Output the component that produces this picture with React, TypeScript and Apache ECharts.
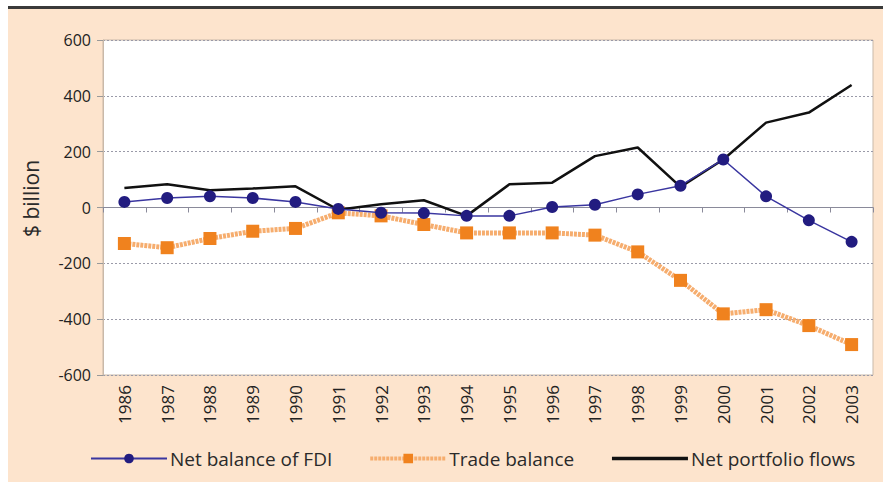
import React, { useEffect, useRef } from "react";
import * as echarts from "echarts";

const years = ["1986","1987","1988","1989","1990","1991","1992","1993","1994","1995","1996","1997","1998","1999","2000","2001","2002","2003"];
const fdi = [20, 34, 40, 34, 20, -5, -19, -20, -30, -30, 2, 10, 47, 78, 172, 40, -46, -123];
const trade = [-129, -144, -111, -85, -75, -19, -30, -61, -91, -91, -91, -99, -159, -261, -381, -366, -423, -491];
const portfolio = [70, 83, 62, 68, 76, -8, 12, 26, -30, 83, 89, 184, 215, 74, 172, 304, 340, 439];
const yTicks = { min: -600, max: 600, interval: 200 };

export default function App() {
  const ref = useRef<HTMLDivElement>(null);
  useEffect(() => {
    if (!ref.current) return;
    const chart = echarts.init(ref.current, null, { renderer: "svg" });
    const font = "'Open Sans', 'Liberation Sans', sans-serif";
    chart.setOption({
      animation: false,
      backgroundColor: "#ffffff",
      textStyle: { fontFamily: font },
      graphic: [
        { type: "rect", z: -10, silent: true, shape: { x: 8, y: 9, width: 875, height: 473 }, style: { fill: "#fde4cd" } },
        { type: "rect", z: 10, silent: true, shape: { x: 8, y: 6, width: 875, height: 3 }, style: { fill: "#3a3a3a" } },
      ],
      grid: {
        left: 103, right: 10, top: 40, bottom: 107,
        show: true, backgroundColor: "#ffffff", borderColor: "#c9b9a9", borderWidth: 1,
      },
      legend: {
        top: 444,
        left: 85,
        itemWidth: 76,
        itemHeight: 12,
        itemGap: 36,
        textStyle: { fontSize: 19, color: "#2a2a2a", fontFamily: font, padding: [0, 0, 0, -2] },
        data: [
          { name: "Net balance of FDI" },
          { name: "Trade balance", lineStyle: { width: 4 } },
          { name: "Net portfolio flows", itemStyle: { opacity: 0 }, lineStyle: { width: 3.5 } },
        ],
      },
      xAxis: [
        {
          type: "category",
          data: years,
          position: "bottom",
          axisLine: { show: true, onZero: true, lineStyle: { color: "#8a8a9a", width: 1 } },
          axisTick: { show: true, length: 5, lineStyle: { color: "#8a8a9a" } },
          axisLabel: { show: false },
          splitLine: { show: false },
        },
        {
          type: "category",
          data: years,
          position: "bottom",
          axisLine: { show: false, onZero: false },
          axisTick: { show: false },
          axisLabel: { show: true, rotate: 90, margin: 10, fontSize: 17, color: "#222", fontFamily: font },
          splitLine: { show: false },
        },
      ],
      yAxis: {
        type: "value",
        min: yTicks.min,
        max: yTicks.max,
        interval: yTicks.interval,
        name: "$ billion",
        nameLocation: "middle",
        nameGap: 62,
        nameTextStyle: { fontSize: 21, color: "#2a2a2a", fontFamily: font, fontWeight: 500, padding: [0, 0, 0, 18] },
        axisLine: { show: true, lineStyle: { color: "#c9b9a9" } },
        axisTick: { show: true, length: 6, lineStyle: { color: "#999" } },
        axisLabel: { fontSize: 16, color: "#222", margin: 12, fontFamily: font },
        splitLine: { show: true, lineStyle: { color: "#9a9aa8", type: [2, 2], width: 1 } },
      },
      series: [
        {
          name: "Trade balance",
          type: "line",
          data: trade,
          symbol: "rect",
          symbolSize: 13,
          itemStyle: { color: "#f0821e" },
          lineStyle: { color: "#f6ad6e", width: 5, type: [3, 1] },
          z: 2,
        },
        {
          name: "Net portfolio flows",
          type: "line",
          data: portfolio,
          symbol: "none",
          itemStyle: { color: "#111" },
          lineStyle: { color: "#111", width: 2.5 },
          z: 3,
        },
        {
          name: "Net balance of FDI",
          type: "line",
          data: fdi,
          symbol: "circle",
          symbolSize: 12,
          itemStyle: { color: "#221c80" },
          lineStyle: { color: "#3a36a0", width: 1.5 },
          z: 4,
        },
      ],
    });
    return () => chart.dispose();
  }, []);
  return (
    <div
      ref={ref}
      style={{ position: "fixed", left: 0, top: 0, width: 883, height: 482 }}
    />
  );
}
